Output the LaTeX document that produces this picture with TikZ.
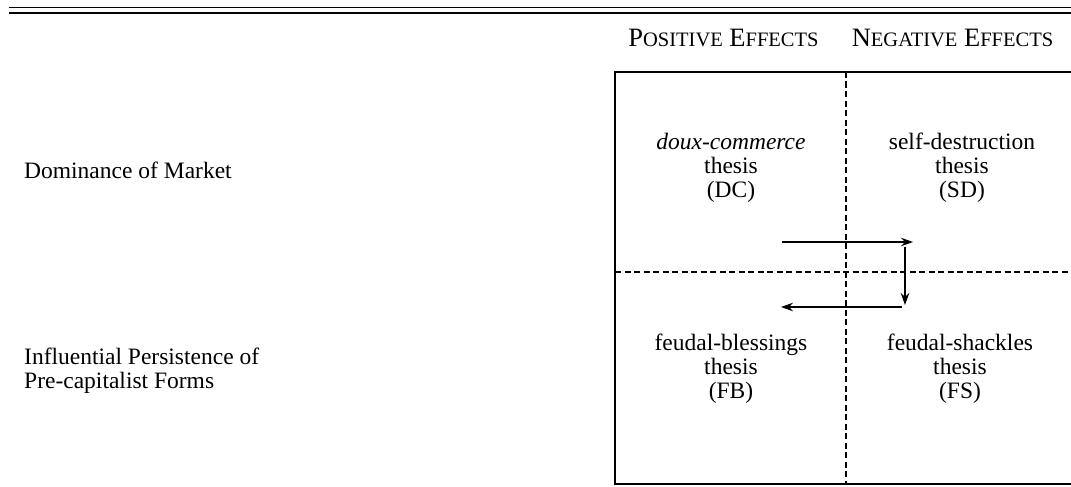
\documentclass[tikz,border=0pt]{standalone}
\usepackage{fontspec}
\setmainfont{Liberation Serif}
\usetikzlibrary{arrows.meta}
\newcommand{\fsc}[2]{{\fontsize{26.5}{28}\selectfont #1}{\fontsize{20.5}{24}\selectfont #2}}
\newcommand{\fscsp}{{\fontsize{26.5}{28}\selectfont\ }}
\begin{document}
\begin{tikzpicture}[x=1pt,y=-1pt,
  txt/.style={font=\fontsize{23.5}{24}\selectfont, inner sep=0pt, align=center},
  lbl/.style={font=\fontsize{23.5}{24}\selectfont, inner sep=0pt, align=left, anchor=west},
  hdr/.style={inner sep=0pt},
  rule/.style={line width=1.4pt},
  frame/.style={line width=1.3pt},
  grid/.style={line width=1.5pt, dash pattern=on 6pt off 3.5pt},
  arr/.style={line width=1.4pt, -{Stealth[length=12pt,width=8.5pt]}}
]
\useasboundingbox (0,0) rectangle (1071,487);
% top double rule
\draw[rule] (9,7.5) -- (1071,7.5);
\draw[rule] (9,13) -- (1071,13);
% headers
\node[hdr] (hpos) at (723.5,38) {\fsc{P}{OSITIVE}\fscsp\fsc{E}{FFECTS}};
\node[hdr] (hneg) at (952.5,38) {\fsc{N}{EGATIVE}\fscsp\fsc{E}{FFECTS}};
% frame
\draw[frame] (1071,72) -- (615,72) -- (615,484) -- (1071,484);
\draw[grid] (846,72) -- (846,484);
\draw[grid] (615,272) -- (1071,272);
% row labels
\node[lbl] (rdm) at (24,170) {Dominance of Market};
\node[lbl] (rip) at (24,371) {Influential Persistence of\\Pre-capitalist Forms};
% cells
\node[txt] (dc) at (731,168) {\textit{doux-commerce}\\thesis\\(DC)};
\node[txt] (sd) at (962,168) {self-destruction\\thesis\\(SD)};
\node[txt] (fb) at (731,368.5) {feudal-blessings\\thesis\\(FB)};
\node[txt] (fs) at (960,368.5) {feudal-shackles\\thesis\\(FS)};
% arrows
\coordinate (a1) at (782,242);
\coordinate (a2) at (913,242);
\coordinate (b1) at (905,247);
\coordinate (b2) at (905,305);
\coordinate (c1) at (902,307);
\coordinate (c2) at (781,307);
\draw[arr] (a1) -- (a2);
\draw[arr] (b1) -- (b2);
\draw[arr] (c1) -- (c2);
\end{tikzpicture}
\end{document}
